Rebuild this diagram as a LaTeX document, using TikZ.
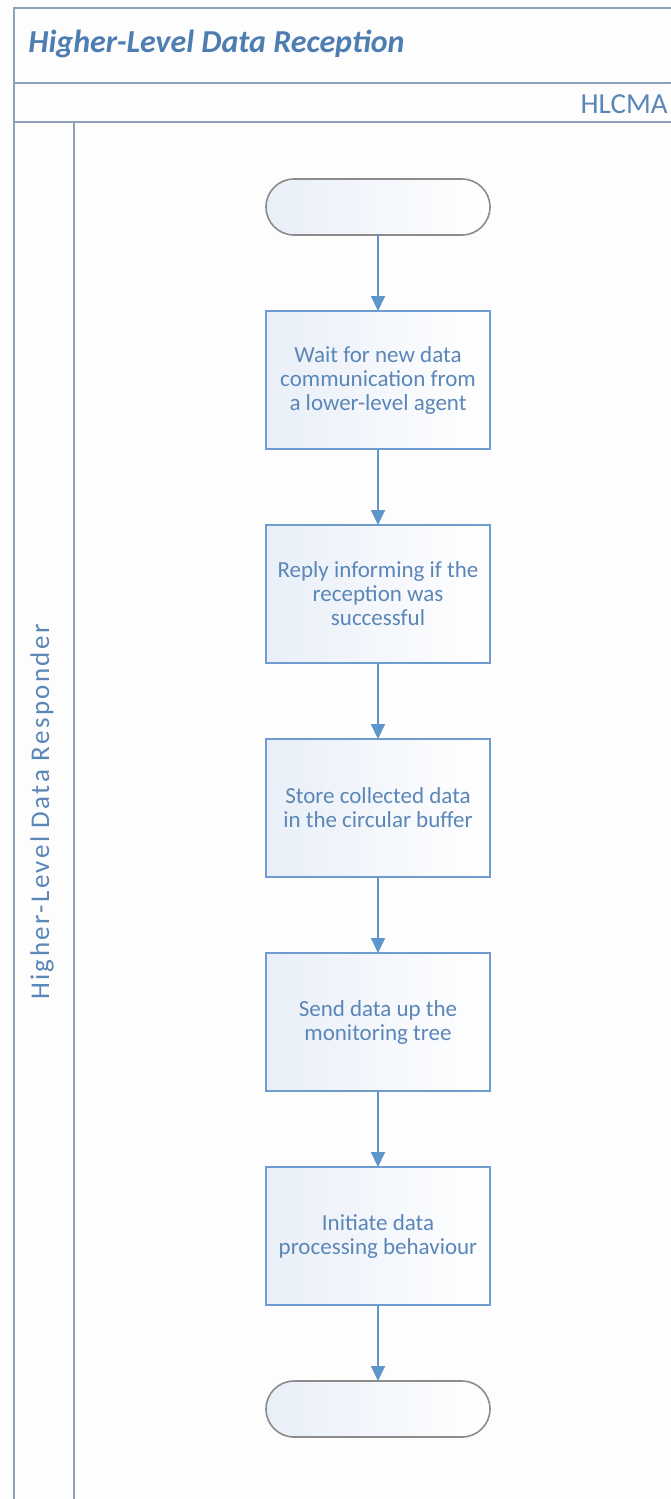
\documentclass[tikz,border=0pt]{standalone}
\usepackage{fontspec}
\setmainfont{Carlito}
\newfontfamily\lanefont[LetterSpace=9]{Carlito}
\usetikzlibrary{positioning,arrows.meta}
\definecolor{laneline}{HTML}{8DA2BA}
\definecolor{txtblue}{HTML}{5B86B8}
\definecolor{titleblue}{HTML}{4E7DB2}
\definecolor{boxline}{HTML}{6E9CCF}
\definecolor{arrowblue}{HTML}{5E96CC}
\definecolor{termline}{HTML}{8C8C8C}
\definecolor{boxshade}{HTML}{E9EFF8}
\definecolor{pagebg}{HTML}{FDFDFD}
\tikzset{>={Triangle[width=7pt,length=7.5pt]},
node distance=38pt,
lane/.style={draw=laneline, line width=1pt},
fl/.style={->, draw=arrowblue, line width=0.9pt},
proc/.style={rectangle, draw=boxline, line width=0.8pt, outer sep=0pt, left color=boxshade, right color=white,
  minimum width=112pt, minimum height=69pt, align=center, text=txtblue,
  font=\fontsize{11.5}{12}\selectfont},
term/.style={rectangle, rounded corners=14pt, draw=termline, line width=0.8pt, outer sep=0pt,
  left color=boxshade, right color=white, minimum width=112pt, minimum height=28pt},
}
\begin{document}
\begin{tikzpicture}[x=0.5pt,y=-0.5pt]
\useasboundingbox[fill=pagebg] (0,0) rectangle (670,1499);
% swimlane frame
\draw[lane] (14,1520) -- (14,8) -- (700,8);
\draw[lane] (14,83) -- (700,83);
\draw[lane] (14,122) -- (700,122);
\draw[lane] (74,122) -- (74,1520);
\node[anchor=base west, inner sep=0pt, text=titleblue, font=\fontsize{16}{18}\selectfont\bfseries\itshape] (title) at (28,53) {Higher-Level Data Reception};
\node[anchor=base east, inner sep=0pt, text=txtblue, font=\fontsize{14.5}{16}\selectfont] (pool) at (668,113) {HLCMA};
\node[rotate=90, text=txtblue, font=\fontsize{13.5}{14}\selectfont\lanefont] (resp) at (42,812) {Higher-Level Data Responder};

\node[term] (start) at (378,207) {};
\node[proc, below=of start] (wait) {Wait for new data\\communication from\\a lower-level agent};
\node[proc, below=of wait] (reply) {Reply informing if the\\reception was\\successful};
\node[proc, below=of reply] (store) {Store collected data\\in the circular buffer};
\node[proc, below=of store] (send) {Send data up the\\monitoring tree};
\node[proc, below=of send] (init) {Initiate data\\processing behaviour};
\node[term, below=of init] (stop) {};

\path
(start) edge[fl] (wait)
(wait) edge[fl] (reply)
(reply) edge[fl] (store)
(store) edge[fl] (send)
(send) edge[fl] (init)
(init) edge[fl] (stop)
;
\end{tikzpicture}
\end{document}
